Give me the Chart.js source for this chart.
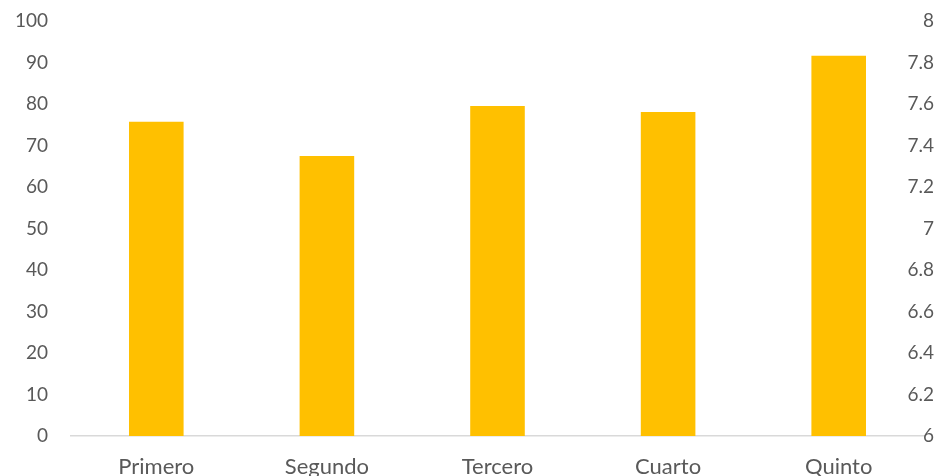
<!DOCTYPE html>
<html>
<head>
<meta charset="utf-8">
<script src="https://cdn.jsdelivr.net/npm/chart.js@4"></script>
<style>
    html, body { margin: 0; padding: 0; background: #ffffff; }
    #wrap { width: 942px; height: 476px; }
</style>
</head>
<body>
<div id="wrap"><canvas id="myChart"></canvas></div>
<script>
// Dati
const categorie = ['Primero', 'Segundo', 'Tercero', 'Cuarto', 'Quinto'];
const valori = [75.7, 67.5, 79.5, 78.1, 91.6];

// Etichette degli assi
const tickSinistra = [0, 10, 20, 30, 40, 50, 60, 70, 80, 90, 100];
const tickDestra = ['6', '6.2', '6.4', '6.6', '6.8', '7', '7.2', '7.4', '7.6', '7.8', '8'];

const fontNumeri = { family: 'Lato', size: 19 };
const fontCategorie = { family: 'Lato', size: 22 };
const coloreTesto = '#595959';

function createChart() {
    const ctx = document.getElementById('myChart').getContext('2d');
    new Chart(ctx, {
        type: 'bar',
        data: {
            labels: categorie,
            datasets: [
                {
                    label: 'Valore',
                    data: valori,
                    backgroundColor: '#FFC000',
                    borderWidth: 0,
                    categoryPercentage: 1,
                    barPercentage: 0.32,
                    yAxisID: 'y'
                }
            ]
        },
        options: {
            responsive: true,
            maintainAspectRatio: false,
            animation: false,
            layout: { padding: { top: 21, right: 8, bottom: 0, left: 0 } },
            scales: {
                x: {
                    grid: { display: false, drawTicks: false },
                    border: { color: '#D9D9D9', width: 1.5 },
                    ticks: { padding: 18, font: fontCategorie, color: coloreTesto, maxRotation: 0 },
                    afterFit: function(scale) { scale.height = 40; }
                },
                y: {
                    position: 'left',
                    min: tickSinistra[0],
                    max: tickSinistra[tickSinistra.length - 1],
                    grid: { display: false, drawTicks: false },
                    border: { display: false },
                    ticks: { stepSize: 10, padding: 23, font: fontNumeri, color: coloreTesto },
                    afterFit: function(scale) {
                        scale.width = 71;
                        scale.paddingTop = 0;
                        scale.paddingBottom = 0;
                    }
                },
                y1: {
                    position: 'right',
                    min: Number(tickDestra[0]),
                    max: Number(tickDestra[tickDestra.length - 1]),
                    grid: { display: false, drawTicks: false },
                    border: { display: false },
                    ticks: {
                        stepSize: 0.2,
                        mirror: true,
                        padding: 10,
                        font: fontNumeri,
                        color: coloreTesto,
                        callback: function(value, index) {
                            return tickDestra[index];
                        }
                    },
                    afterFit: function(scale) {
                        scale.width = 10;
                        scale.paddingTop = 0;
                        scale.paddingBottom = 0;
                    }
                }
            },
            plugins: {
                legend: { display: false },
                tooltip: { enabled: false }
            }
        }
    });
}

document.addEventListener('DOMContentLoaded', (event) => {
    createChart();
});
</script>
</body>
</html>
